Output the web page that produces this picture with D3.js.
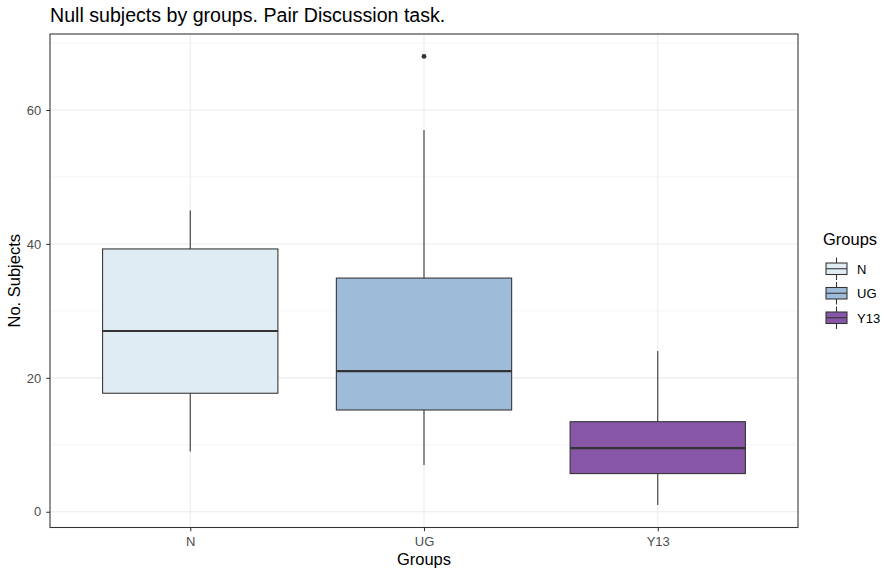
<!DOCTYPE html>
<html>
<head>
<meta charset="utf-8">
<script src="https://cdn.jsdelivr.net/npm/d3@7"></script>
<style>
  body { margin: 0; background: #fff; }
  text { font-family: "Liberation Sans", Arial, sans-serif; }
</style>
</head>
<body>
<svg id="chart" width="887" height="574"></svg>
<script>
// ---- data ----
const categories = ["N", "UG", "Y13"];
const whiskerLow  = [9, 7, 1];
const q1          = [17.7, 15.2, 5.7];
const medians     = [27, 21, 9.5];
const q3          = [39.25, 34.9, 13.45];
const whiskerHigh = [45, 57, 24];
const outliers    = [[], [68], []];
const fills       = ["#e0ecf4", "#9ebcda", "#8856a7"];
const yTicks      = [0, 20, 40, 60];
const yMinorTicks = [10, 30, 50, 70];

const W = 887, H = 574;
const panel = { left: 50, top: 34, right: 798, bottom: 527.5 };

const svg = d3.select("#chart");
svg.append("rect").attr("width", W).attr("height", H).attr("fill", "#fff");

const y = d3.scaleLinear().domain([-2.35, 71.35]).range([panel.bottom, panel.top]);
const xc = d3.scalePoint().domain(categories).range([panel.left, panel.right]).padding(0.6);
const step = xc.step();
const boxW = step * 0.75;

const g = svg.append("g");

// grid
g.selectAll(".minor").data(yMinorTicks).join("line")
  .attr("x1", panel.left).attr("x2", panel.right)
  .attr("y1", d => y(d)).attr("y2", d => y(d))
  .attr("stroke", "#ebebeb").attr("stroke-width", 0.55);
g.selectAll(".major").data(yTicks).join("line")
  .attr("x1", panel.left).attr("x2", panel.right)
  .attr("y1", d => y(d)).attr("y2", d => y(d))
  .attr("stroke", "#ebebeb").attr("stroke-width", 1.07);
g.selectAll(".vmajor").data(categories).join("line")
  .attr("x1", d => xc(d)).attr("x2", d => xc(d))
  .attr("y1", panel.top).attr("y2", panel.bottom)
  .attr("stroke", "#ebebeb").attr("stroke-width", 1.07);

// boxes
categories.forEach((c, i) => {
  const cx = xc(c);
  const lc = "#333333";
  g.append("line").attr("x1", cx).attr("x2", cx)
    .attr("y1", y(q3[i])).attr("y2", y(whiskerHigh[i]))
    .attr("stroke", lc).attr("stroke-width", 1.07);
  g.append("line").attr("x1", cx).attr("x2", cx)
    .attr("y1", y(q1[i])).attr("y2", y(whiskerLow[i]))
    .attr("stroke", lc).attr("stroke-width", 1.07);
  g.append("rect")
    .attr("x", cx - boxW / 2).attr("width", boxW)
    .attr("y", y(q3[i])).attr("height", y(q1[i]) - y(q3[i]))
    .attr("fill", fills[i]).attr("stroke", lc).attr("stroke-width", 1.07);
  g.append("line").attr("x1", cx - boxW / 2).attr("x2", cx + boxW / 2)
    .attr("y1", y(medians[i])).attr("y2", y(medians[i]))
    .attr("stroke", lc).attr("stroke-width", 2.13);
  outliers[i].forEach(o => {
    g.append("circle").attr("cx", cx).attr("cy", y(o)).attr("r", 2.4).attr("fill", lc);
  });
});

// panel border
g.append("rect").attr("x", panel.left).attr("y", panel.top)
  .attr("width", panel.right - panel.left).attr("height", panel.bottom - panel.top)
  .attr("fill", "none").attr("stroke", "#333333").attr("stroke-width", 1.07);

// axes
const yAxis = d3.axisLeft(y).tickValues(yTicks).tickSize(3.7).tickPadding(5);
const ya = svg.append("g").attr("transform", `translate(${panel.left},0)`).call(yAxis);
ya.select(".domain").remove();
ya.selectAll(".tick line").attr("stroke", "#333333").attr("stroke-width", 1.07);
ya.selectAll(".tick text").attr("fill", "#4d4d4d").style("font-size", "13px")
  .style("font-family", "'Liberation Sans', Arial, sans-serif");

const xAxis = d3.axisBottom(xc).tickSize(3.7).tickPadding(6);
const xa = svg.append("g").attr("transform", `translate(0,${panel.bottom})`).call(xAxis);
xa.select(".domain").remove();
xa.selectAll(".tick line").attr("stroke", "#333333").attr("stroke-width", 1.07);
xa.selectAll(".tick text").attr("fill", "#4d4d4d").style("font-size", "13px")
  .style("font-family", "'Liberation Sans', Arial, sans-serif");

// titles
svg.append("text").attr("x", panel.left).attr("y", 22)
  .style("font-size", "19.6px").attr("fill", "#000")
  .text("Null subjects by groups. Pair Discussion task.");
svg.append("text").attr("x", (panel.left + panel.right) / 2).attr("y", 565)
  .attr("text-anchor", "middle").style("font-size", "16.5px").attr("fill", "#000")
  .text("Groups");
svg.append("text")
  .attr("transform", `translate(20,${(panel.top + panel.bottom) / 2}) rotate(-90)`)
  .attr("text-anchor", "middle").style("font-size", "16.5px").attr("fill", "#000")
  .text("No. Subjects");

// legend
const lg = svg.append("g");
lg.append("text").attr("x", 823).attr("y", 245).style("font-size", "16.5px").attr("fill", "#000").text("Groups");
const keyTop = 257.5, keyH = 24.5, keyCx = 836.5, keyBw = 21;
categories.forEach((c, i) => {
  const top = keyTop + i * keyH;
  const bTop = top + 5.5, bBot = top + 17;
  lg.append("line").attr("x1", keyCx).attr("x2", keyCx).attr("y1", top).attr("y2", top + 22.5)
    .attr("stroke", "#333333").attr("stroke-width", 1.07);
  lg.append("rect").attr("x", keyCx - keyBw / 2).attr("width", keyBw)
    .attr("y", bTop).attr("height", bBot - bTop)
    .attr("fill", fills[i]).attr("stroke", "#333333").attr("stroke-width", 1.07);
  lg.append("line").attr("x1", keyCx - keyBw / 2).attr("x2", keyCx + keyBw / 2)
    .attr("y1", (bTop + bBot) / 2).attr("y2", (bTop + bBot) / 2)
    .attr("stroke", "#333333").attr("stroke-width", 1.07);
  lg.append("text").attr("x", 857).attr("y", top + 16)
    .style("font-size", "13px").attr("fill", "#000").text(c);
});
</script>
</body>
</html>
